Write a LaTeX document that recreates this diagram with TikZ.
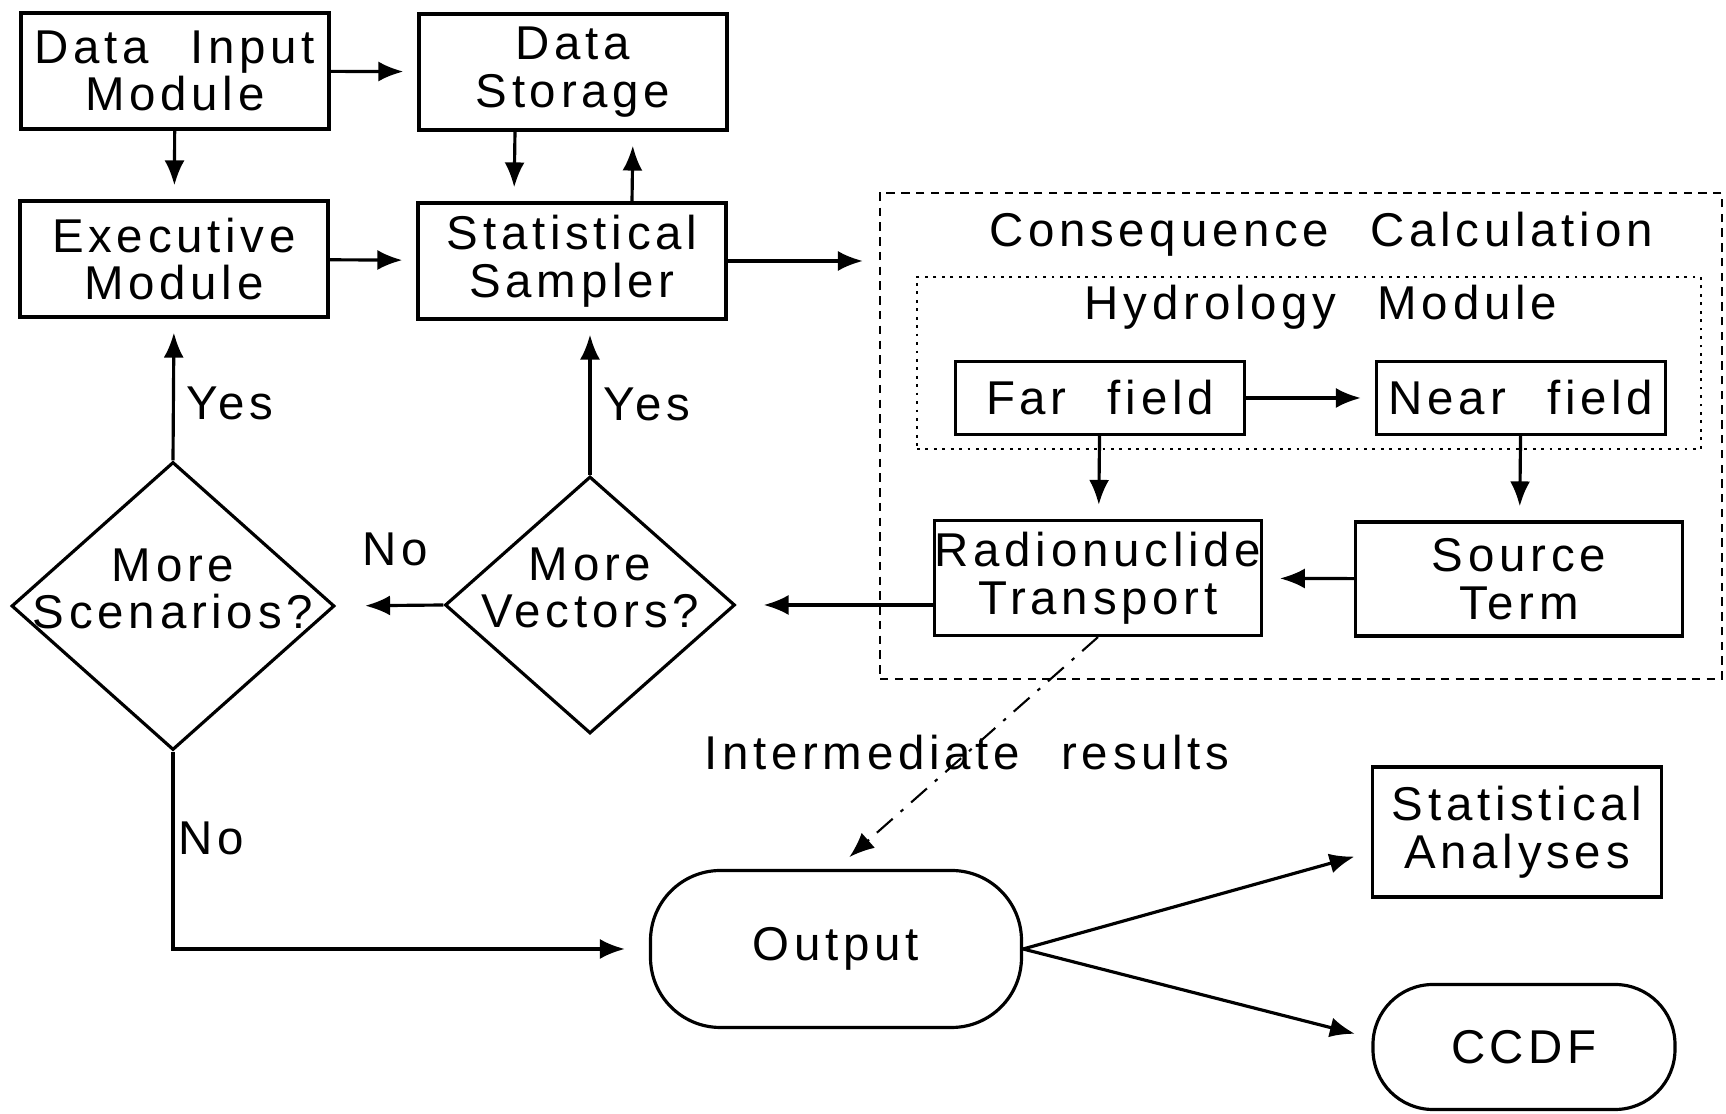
\documentclass[tikz,border=0pt]{standalone}
\usepackage{fontspec}
\setmainfont{Liberation Sans}[LetterSpace=10,WordSpace=2.3]
\usetikzlibrary{arrows.meta,shapes.geometric,calc}

\begin{document}
\begin{tikzpicture}[x=0.1mm,y=-0.1mm,>={Latex[length=2.5mm,width=2mm]},line width=0.9pt,
	every node/.style={font=\fontsize{13.5}{13.6}\selectfont,align=center},
	blk/.style={draw,inner sep=0pt,minimum width=30.8mm,minimum height=11.6mm},
	dec/.style={draw,diamond,inner sep=0pt},
	term/.style={draw,rounded corners=7mm,inner sep=0pt},
	link/.style={->,shorten >=1.4mm}]
	\useasboundingbox (0,0) rectangle (1726,1114);
	% sampling loop
	\node[blk] (inp) at (175,71) {Data Input\\Module};
	\node[blk] (store) at (573,72) {Data\\Storage};
	\node[blk] (exec) at (174,259) {Executive\\Module};
	\node[blk] (samp) at (572,261) {Statistical\\Sampler};
	\node[dec,minimum width=32.3mm,minimum height=28.8mm,label={[yshift=1.7mm]center:More\\Scenarios?}] (scen) at (173,606) {};
	\node[dec,minimum width=29mm,minimum height=25.7mm,label={[yshift=1.7mm]center:More\\Vectors?}] (vec) at (590,605) {};
	% consequence calculation
	\node[draw,line width=0.6pt,dash pattern=on 2.4pt off 1.8pt,minimum width=84.2mm,minimum height=48.6mm] (cons) at (1301,436) {};
	\node at (1321,234) {Consequence Calculation};
	\node[draw,line width=0.6pt,dash pattern=on 0.8pt off 1.6pt,minimum width=78.4mm,minimum height=17.2mm] (hydro) at (1309,363) {};
	\node at (1321,307) {Hydrology Module};
	\node[blk,minimum width=28.9mm,minimum height=7.3mm] (far) at (1100,398) {Far field};
	\node[blk,minimum width=28.9mm,minimum height=7.3mm] (near) at (1521,398) {Near field};
	\node[blk,minimum width=32.4mm,minimum height=11.5mm] (rad) at (1098,578) {Radionuclide\\Transport};
	\node[blk,minimum width=32.7mm,minimum height=11.4mm] (src) at (1519,579) {Source\\Term};
	% results
	\node[term,minimum width=37.1mm,minimum height=15.7mm] (out) at (836,949) {Output};
	\node[blk,minimum width=28.9mm,minimum height=13mm] (sta) at (1517,832) {Statistical\\Analyses};
	\node[term,rounded corners=6mm,minimum width=30.2mm,minimum height=12.5mm] (ccdf) at (1524,1047) {CCDF};
	% connectors
	\draw[link] (inp) -- (store);
	\draw[link] (inp) -- (exec);
	\draw[link] (exec) -- (samp);
	\draw[link] ([xshift=-5.8mm]store.south) -- ([xshift=-5.8mm]samp.north);
	\draw[link] ([xshift=6mm]samp.north) -- ([xshift=6mm]store.south);
	\draw[link,shorten >=1.6mm] (samp.east) -- (samp.east -| cons.west);
	\draw[link] (far) -- (near);
	\draw[link] (far) -- (rad);
	\draw[link] (near) -- (src);
	\draw[link,shorten >=1.7mm] (src) -- (rad);
	\draw[link,shorten >=2.7mm] (vec.east -| rad.west) -- (vec.east);
	\draw[link,shorten >=2.9mm] (vec.west) -- node[pos=0.45,above=2.6mm]{No} (scen.east);
	\draw[link] (scen.north) -- node[pos=0.4,right]{Yes} (exec.south);
	\draw[link] (vec.north) -- node[pos=0.46,right]{Yes} (vec.north |- samp.south);
	\draw[link,shorten >=2.4mm] (scen.south) |- node[pos=0.22,anchor=west,inner sep=1pt]{No} (out.west);
	\draw[link,shorten >=1.8mm,line width=0.6pt,dash pattern=on 6pt off 3pt on 1pt off 3pt] (rad.south) -- node[midway]{Intermediate results} (out.north);
	\draw[link,shorten >=1.7mm] (out.east) -- ([yshift=-2mm]sta.west);
	\draw[link,shorten >=1.7mm] (out.east) -- ([yshift=0.9mm]ccdf.west);
\end{tikzpicture}
\end{document}
